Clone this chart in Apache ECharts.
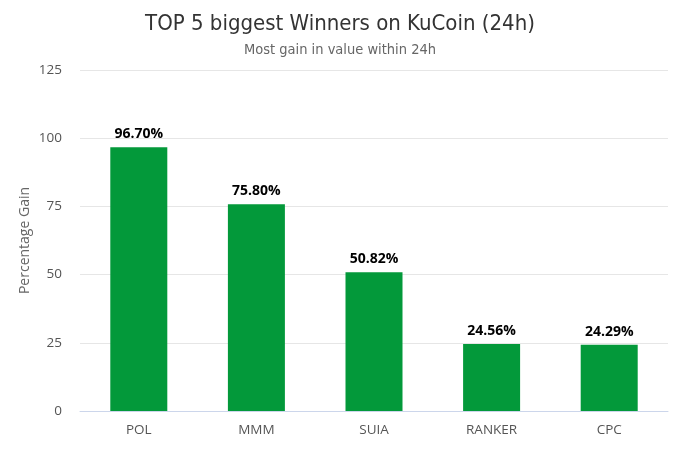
<!DOCTYPE html>
<html><head><meta charset="utf-8">
<script src="https://cdn.jsdelivr.net/npm/echarts@6/dist/echarts.min.js"></script>
<style>html,body{margin:0;padding:0;background:#fff}#c{width:680px;height:453px}</style>
</head><body><div id="c"></div>
<script>
const categories = ['POL', 'MMM', 'SUIA', 'RANKER', 'CPC'];
const gains = [96.70, 75.80, 50.82, 24.56, 24.29];
const yTicks = [0, 25, 50, 75, 100, 125];

const chart = echarts.init(document.getElementById('c'));
chart.setOption({
  animation: false,
  title: {
    text: 'TOP 5 biggest Winners on KuCoin (24h)',
    subtext: 'Most gain in value within 24h',
    left: 'center', top: 8,
    textStyle: { fontFamily: 'DejaVu Sans Condensed, DejaVu Sans', fontSize: 22, fontWeight: 'normal', color: '#333' },
    subtextStyle: { fontFamily: 'DejaVu Sans Condensed, DejaVu Sans', fontSize: 14.5, color: '#666' },
    itemGap: 8
  },
  grid: { left: 80, right: 12, top: 70, bottom: 42 },
  xAxis: {
    type: 'category', data: categories,
    axisLine: { lineStyle: { color: '#ccd6eb' } },
    axisTick: { show: false },
    axisLabel: { color: '#555', fontSize: 13.5, fontFamily: 'Open Sans', margin: 12 }
  },
  yAxis: {
    type: 'value', min: yTicks[0], max: yTicks[yTicks.length - 1], interval: 25,
    name: 'Percentage Gain', nameLocation: 'middle', nameGap: 48, nameMoveOverlap: false,
    nameTextStyle: { color: '#666', fontSize: 14, fontFamily: 'Open Sans' },
    splitLine: { lineStyle: { color: '#e6e6e6' } },
    axisLabel: { color: '#555', fontSize: 13.5, fontFamily: 'Open Sans', margin: 18 }
  },
  series: [{
    type: 'bar', data: gains, barWidth: 57,
    itemStyle: { color: '#03993a' },
    label: {
      show: true, position: 'top', distance: 6,
      formatter: p => p.value.toFixed(2) + '%',
      color: '#000', fontWeight: 'bold', fontSize: 14, fontFamily: 'Open Sans'
    }
  }]
});
</script></body></html>
